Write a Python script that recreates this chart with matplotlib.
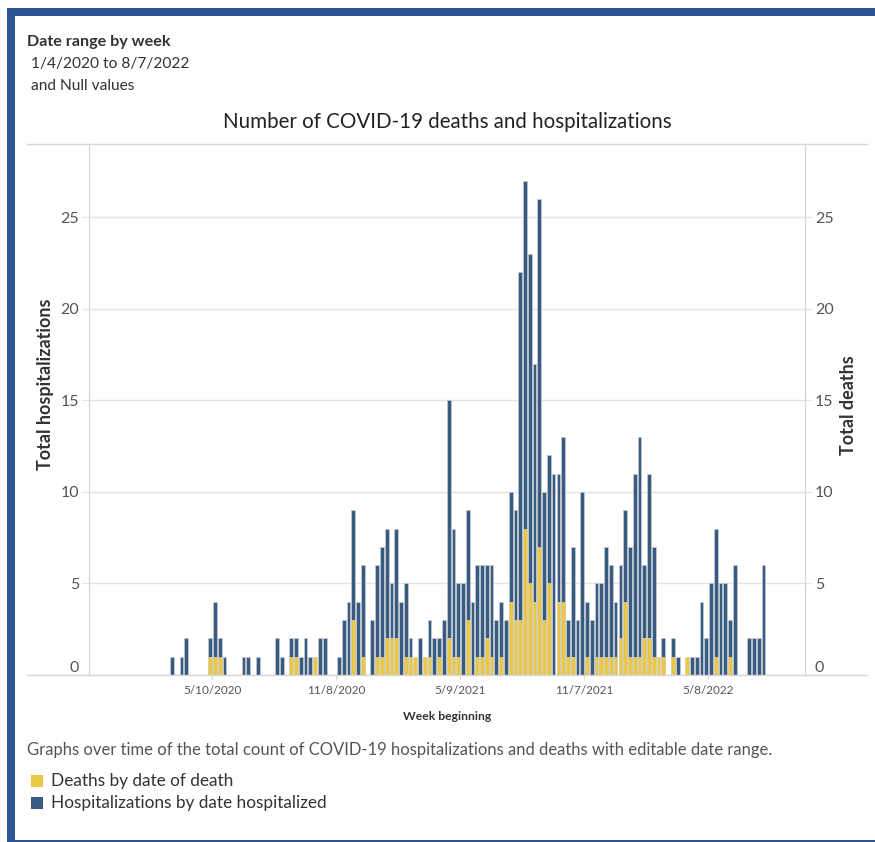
import numpy as np
import pandas as pd
import matplotlib
matplotlib.use("Agg")
import matplotlib.pyplot as plt
import matplotlib.dates as mdates
from matplotlib.lines import Line2D
from matplotlib.patches import Rectangle
from matplotlib.transforms import ScaledTranslation

plt.rcParams['font.family'] = ['Lato', 'DejaVu Sans']

# weekly counts, first bar is the week beginning 3/15/2020
hosp = [1, 0, 1, 2, 0, 0, 0, 0, 2, 4,
        2, 1, 0, 0, 0, 1, 1, 0, 1, 0,
        0, 0, 2, 1, 0, 2, 2, 1, 2, 1,
        0, 2, 2, 0, 0, 1, 3, 4, 9, 4,
        6, 0, 3, 6, 7, 8, 5, 8, 4, 5,
        2, 0, 2, 0, 3, 2, 2, 3, 15, 8,
        5, 5, 9, 4, 6, 6, 6, 6, 3, 4,
        3, 10, 9, 22, 27, 23, 17, 26, 10, 12,
        11, 11, 13, 3, 7, 3, 10, 4, 3, 5,
        5, 7, 6, 4, 6, 9, 7, 11, 13, 6,
        11, 7, 0, 2, 0, 2, 1, 0, 0, 1,
        1, 4, 2, 5, 8, 5, 5, 3, 6, 0,
        0, 2, 2, 2, 6]
deaths = [0, 0, 0, 0, 0, 0, 0, 0, 1, 1,
          1, 0, 0, 0, 0, 0, 0, 0, 0, 0,
          0, 0, 0, 0, 0, 1, 1, 0, 0, 0,
          1, 0, 0, 0, 0, 0, 0, 0, 3, 0,
          1, 0, 0, 1, 1, 2, 2, 2, 0, 1,
          1, 1, 0, 1, 1, 0, 1, 0, 2, 1,
          1, 0, 3, 0, 1, 1, 2, 1, 0, 1,
          0, 4, 3, 3, 8, 5, 4, 7, 3, 5,
          0, 4, 4, 1, 1, 0, 0, 1, 0, 1,
          1, 1, 1, 1, 2, 4, 1, 1, 1, 2,
          2, 1, 1, 1, 0, 1, 0, 0, 1, 0,
          0, 0, 0, 0, 1, 0, 0, 1, 0, 0,
          0, 0, 0, 0, 0]
tick_dates = ["2020-05-10", "2020-11-08", "2021-05-09", "2021-11-07", "2022-05-08"]
tick_labels = ["5/10/2020", "11/8/2020", "5/9/2021", "11/7/2021", "5/8/2022"]
yticks = [0, 5, 10, 15, 20, 25]

blue = '#3a5b80'
yellow = '#eac745'
grid = '#e3e3e3'
border = '#2d5596'

W, H = 875, 842
fig = plt.figure(figsize=(W / 100, H / 100), dpi=100)

def fx(px):
    return px / W

def fy(py):
    return 1 - py / H

weeks = pd.date_range("2020-03-15", periods=len(hosp), freq="7D")
x = mdates.date2num(weeks)
start = mdates.date2num(pd.Timestamp("2020-01-05"))

ax = fig.add_axes([fx(89), fy(675), fx(805) - fx(89), fy(144) - fy(675)])
ax2 = ax.twinx()
ax.bar(x, hosp, width=5.5, color=blue, edgecolor='#c5ccd6', linewidth=0.5, zorder=2)
ax2.bar(x, deaths, width=5.5, color=yellow, edgecolor='#d9d2b8', linewidth=0.5, zorder=2)

for a in (ax, ax2):
    a.set_ylim(0, 29)
    a.set_xlim(start - 7.4 * 7, start + 142.7 * 7)
    a.set_yticks(yticks)
    for s in ('top', 'bottom'):
        a.spines[s].set_visible(False)
    a.spines['left'].set_color('#d6d6d6')
    a.spines['right'].set_color('#d6d6d6')
    a.tick_params(axis='y', length=5, color=grid, labelsize=11.5, labelcolor='#555555', pad=2)

ax.yaxis.grid(True, color=grid, linewidth=1, zorder=0)
ax.set_axisbelow(True)
ax.set_xticks(mdates.date2num(pd.to_datetime(tick_dates)) + 3)
ax.set_xticklabels(tick_labels)
ax.tick_params(axis='x', length=3, color='#d6d6d6', labelsize=8.5, labelcolor='#555555', pad=4)

# lift the 0 labels like the original
shift = ScaledTranslation(0, 0.09, fig.dpi_scale_trans)
for a, lab in ((ax, ax.get_yticklabels()[0]), (ax2, ax2.get_yticklabels()[0])):
    lab.set_transform(lab.get_transform() + shift)

# long light rules at the top and bottom of the plot
for py in (144, 675):
    fig.add_artist(Line2D([fx(27), fx(867)], [fy(py), fy(py)], color='#d6d6d6', linewidth=1))

# frame
fig.add_artist(Rectangle((fx(7), 0), fx(8), fy(8), color=border, linewidth=0))
fig.add_artist(Rectangle((fx(7), fy(16)), 1, fy(8) - fy(16), color=border, linewidth=0))
fig.add_artist(Rectangle((fx(7), 0), 1, 2.5 / H, color=border, linewidth=0))

fig.text(fx(27), fy(42), "Date range by week", fontsize=11.6, fontweight='bold', color='#333333', va='center')
fig.text(fx(31), fy(64), "1/4/2020 to 8/7/2022", fontsize=11.2, color='#333333', va='center')
fig.text(fx(31), fy(86), "and Null values", fontsize=11.2, color='#333333', va='center')
fig.text(fx(447), fy(122), "Number of COVID-19 deaths and hospitalizations", fontsize=14.8,
         color='#222222', ha='center', va='center')
fig.text(fx(46), fy(384), "Total hospitalizations", fontsize=13, fontweight='bold', color='#333333',
         rotation=90, ha='center', va='center')
fig.text(fx(849), fy(405), "Total deaths", fontsize=13, fontweight='bold', color='#333333',
         rotation=90, ha='center', va='center')
fig.text(fx(447), fy(716), "Week beginning", fontsize=8.7, fontweight='bold', color='#333333',
         ha='center', va='center')
fig.text(fx(27), fy(750), "Graphs over time of the total count of COVID-19 hospitalizations and deaths "
         "with editable date range.", fontsize=12, color='#555555', va='center')

fig.add_artist(Rectangle((fx(31), fy(787)), fx(12), 12 / H, color=yellow, linewidth=0))
fig.add_artist(Rectangle((fx(31), fy(809)), fx(12), 12 / H, color=blue, linewidth=0))
fig.text(fx(51), fy(781), "Deaths by date of death", fontsize=12.4, color='#333333', va='center')
fig.text(fx(51), fy(803), "Hospitalizations by date hospitalized", fontsize=12.4, color='#333333', va='center')

fig.savefig("out.png", dpi=100, facecolor='white')
